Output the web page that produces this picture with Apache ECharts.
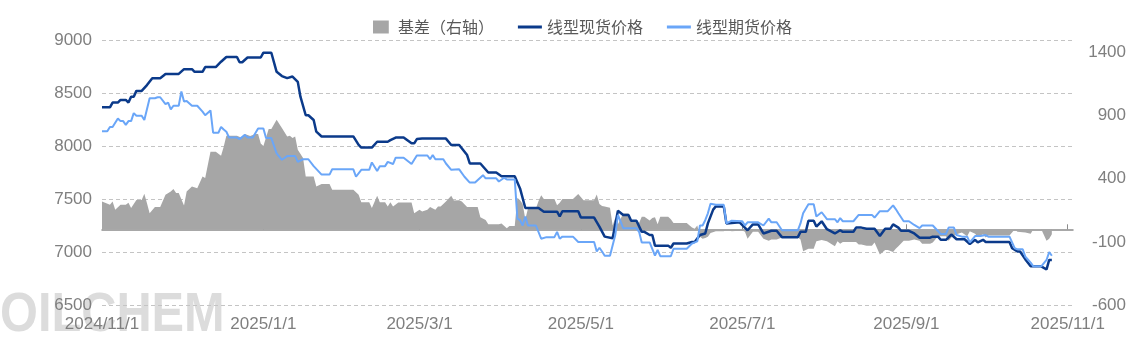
<!DOCTYPE html>
<html><head><meta charset="utf-8">
<script src="https://cdn.jsdelivr.net/npm/echarts@6/dist/echarts.min.js"></script>
<style>html,body{margin:0;padding:0;background:#fff}#c{width:1135px;height:360px}</style>
</head><body><div id="c"></div>
<script>
const spotDates = ['2024-11-01','2024-11-04','2024-11-05','2024-11-07','2024-11-08','2024-11-10','2024-11-11','2024-11-12','2024-11-13','2024-11-14','2024-11-16','2024-11-18','2024-11-20','2024-11-23','2024-11-25','2024-11-30',
'2024-12-02','2024-12-05','2024-12-06','2024-12-09','2024-12-10','2024-12-14','2024-12-16','2024-12-18','2024-12-22','2024-12-23','2024-12-24','2024-12-26','2024-12-31',
'2025-01-01','2025-01-04','2025-01-06','2025-01-08','2025-01-10','2025-01-12','2025-01-14','2025-01-15','2025-01-17','2025-01-18','2025-01-20','2025-01-21','2025-01-23',
'2025-02-04','2025-02-06','2025-02-07','2025-02-11','2025-02-13','2025-02-17','2025-02-18','2025-02-20','2025-02-23','2025-02-26','2025-02-27','2025-02-28',
'2025-03-02','2025-03-11','2025-03-13','2025-03-16','2025-03-19','2025-03-20','2025-03-24','2025-03-27','2025-03-30',
'2025-04-01','2025-04-06','2025-04-08','2025-04-10','2025-04-15','2025-04-17','2025-04-22','2025-04-23','2025-04-24','2025-04-30',
'2025-05-01','2025-05-06','2025-05-08','2025-05-10','2025-05-13','2025-05-15','2025-05-17','2025-05-19','2025-05-20','2025-05-22','2025-05-24','2025-05-25','2025-05-27','2025-05-28','2025-05-29',
'2025-06-03','2025-06-04','2025-06-05','2025-06-10','2025-06-12','2025-06-13','2025-06-15','2025-06-17','2025-06-18','2025-06-20','2025-06-21','2025-06-24','2025-06-25','2025-06-30',
'2025-07-03','2025-07-05','2025-07-07','2025-07-09','2025-07-12','2025-07-14','2025-07-16','2025-07-22','2025-07-23','2025-07-25','2025-07-26','2025-07-28','2025-07-29','2025-07-31',
'2025-08-02','2025-08-05','2025-08-07','2025-08-08','2025-08-12','2025-08-13','2025-08-15','2025-08-17','2025-08-20','2025-08-22','2025-08-24','2025-08-26','2025-08-27','2025-08-29','2025-08-30',
'2025-09-02','2025-09-04','2025-09-06','2025-09-10','2025-09-11','2025-09-13','2025-09-14','2025-09-16','2025-09-18','2025-09-20','2025-09-23','2025-09-25','2025-09-27','2025-09-28','2025-09-30',
'2025-10-01','2025-10-10','2025-10-11','2025-10-13','2025-10-14','2025-10-16','2025-10-18','2025-10-22','2025-10-24','2025-10-25','2025-10-26'];
const spotPrices = [8365,8365,8410,8410,8435,8435,8410,8465,8465,8520,8520,8575,8640,8640,8680,8680,
8725,8725,8700,8700,8745,8745,8795,8840,8840,8790,8790,8835,8835,
8880,8880,8700,8660,8640,8655,8605,8465,8290,8290,8245,8135,8090,
8090,8010,7985,7985,8040,8040,8055,8080,8080,8025,8025,8065,
8070,8070,8010,8010,7915,7835,7835,7750,7750,
7715,7715,7600,7415,7415,7380,7380,7335,7385,7385,
7325,7325,7240,7145,7130,7390,7350,7350,7295,7295,7190,7190,7160,7160,7060,
7060,7040,7080,7080,7095,7095,7160,7175,7270,7400,7430,7430,7270,7280,
7205,7260,7260,7175,7200,7200,7140,7140,7190,7190,7295,7295,7240,7290,
7215,7175,7205,7190,7190,7230,7230,7220,7220,7150,7220,7220,7260,7230,7200,
7200,7175,7135,7135,7145,7145,7115,7115,7165,7120,7120,7075,7115,7090,7115,
7095,7095,7035,7005,7005,6930,6865,6865,6835,6925,6925];

const futDates = ['2024-11-01','2024-11-03','2024-11-04','2024-11-05','2024-11-07','2024-11-08','2024-11-09','2024-11-10','2024-11-11','2024-11-12','2024-11-13','2024-11-14','2024-11-16','2024-11-17','2024-11-19','2024-11-21','2024-11-22','2024-11-23','2024-11-25','2024-11-26','2024-11-27','2024-11-28','2024-11-30',
'2024-12-01','2024-12-02','2024-12-03','2024-12-05','2024-12-07','2024-12-09','2024-12-10','2024-12-12','2024-12-13','2024-12-15','2024-12-16','2024-12-17','2024-12-18','2024-12-19','2024-12-22','2024-12-23','2024-12-25','2024-12-26','2024-12-28','2024-12-30',
'2025-01-01','2025-01-02','2025-01-04','2025-01-06','2025-01-08','2025-01-10','2025-01-13','2025-01-14','2025-01-16','2025-01-18','2025-01-20','2025-01-23','2025-01-26','2025-01-27',
'2025-02-04','2025-02-05','2025-02-07','2025-02-10','2025-02-11','2025-02-13','2025-02-14','2025-02-16','2025-02-17','2025-02-19','2025-02-20','2025-02-23','2025-02-26','2025-02-28',
'2025-03-04','2025-03-05','2025-03-06','2025-03-07','2025-03-10','2025-03-11','2025-03-13','2025-03-16','2025-03-18','2025-03-20','2025-03-22','2025-03-25','2025-03-26','2025-03-30','2025-03-31',
'2025-04-02','2025-04-03','2025-04-06','2025-04-07','2025-04-08','2025-04-09','2025-04-10','2025-04-11','2025-04-14','2025-04-16','2025-04-18','2025-04-21','2025-04-22','2025-04-23','2025-04-24','2025-04-28','2025-04-30',
'2025-05-06','2025-05-07','2025-05-08','2025-05-09','2025-05-10','2025-05-12','2025-05-14','2025-05-15','2025-05-17','2025-05-22','2025-05-23','2025-05-24','2025-05-27','2025-05-29','2025-05-30','2025-05-31',
'2025-06-04','2025-06-05','2025-06-10','2025-06-12','2025-06-14','2025-06-15','2025-06-16','2025-06-17','2025-06-18','2025-06-19','2025-06-21','2025-06-24','2025-06-25','2025-06-27',
'2025-07-01','2025-07-02','2025-07-03','2025-07-07','2025-07-09','2025-07-11','2025-07-12','2025-07-14','2025-07-16','2025-07-22','2025-07-23','2025-07-24','2025-07-26','2025-07-28','2025-07-29','2025-07-31',
'2025-08-02','2025-08-05','2025-08-06','2025-08-07','2025-08-08','2025-08-12','2025-08-14','2025-08-19','2025-08-20','2025-08-22','2025-08-25','2025-08-27','2025-08-28','2025-08-29','2025-08-31',
'2025-09-02','2025-09-04','2025-09-06','2025-09-07','2025-09-11','2025-09-14','2025-09-16','2025-09-17','2025-09-19','2025-09-20','2025-09-22','2025-09-24','2025-09-25','2025-09-27','2025-09-29',
'2025-10-01','2025-10-02','2025-10-10','2025-10-12','2025-10-13','2025-10-15','2025-10-16','2025-10-18','2025-10-19','2025-10-22','2025-10-24','2025-10-25','2025-10-26'];
const futPrices = [8140,8140,8180,8180,8260,8235,8235,8200,8235,8235,8310,8285,8285,8245,8450,8450,8460,8460,8395,8410,8345,8380,8380,
8515,8420,8425,8380,8380,8325,8290,8335,8125,8125,8180,8155,8135,8080,8080,8065,8105,8080,8080,8165,
8165,8075,8075,7930,7870,7905,7905,7850,7875,7875,7810,7730,7730,7780,
7780,7710,7775,7775,7845,7765,7810,7810,7850,7830,7890,7890,7830,7910,
7910,7875,7915,7875,7875,7835,7775,7780,7710,7655,7655,7725,7695,7695,7665,
7700,7685,7685,7315,7300,7250,7335,7250,7250,7125,7140,7140,7190,7125,7145,7145,7095,
7095,7005,7040,7005,6965,6965,7160,7350,7225,7225,7190,7090,7090,6965,7020,6960,
6960,7030,7030,7080,7100,7250,7250,7300,7365,7455,7445,7445,7270,7295,
7290,7250,7280,7280,7250,7315,7280,7280,7205,7205,7270,7365,7450,7450,7335,7375,
7310,7310,7280,7320,7290,7290,7350,7350,7325,7385,7385,7440,7405,7365,7290,
7290,7255,7225,7250,7250,7170,7170,7230,7230,7160,7145,7145,7090,7150,7150,
7160,7145,7145,7035,7025,7025,6955,6900,6865,6865,6925,7000,6965];

const basisDates = ['2024-11-01','2024-11-04','2024-11-05','2024-11-06','2024-11-08','2024-11-10','2024-11-11','2024-11-12','2024-11-14','2024-11-16','2024-11-17','2024-11-18','2024-11-19','2024-11-21','2024-11-23','2024-11-25','2024-11-27','2024-11-28','2024-11-29','2024-11-30',
'2024-12-02','2024-12-03','2024-12-05','2024-12-07','2024-12-09','2024-12-10','2024-12-12','2024-12-14','2024-12-16','2024-12-17','2024-12-18','2024-12-22','2024-12-24','2024-12-25','2024-12-27','2024-12-29','2024-12-30','2024-12-31',
'2025-01-01','2025-01-03','2025-01-04','2025-01-06','2025-01-08','2025-01-10','2025-01-11','2025-01-12','2025-01-13','2025-01-14','2025-01-16','2025-01-17','2025-01-20','2025-01-21','2025-01-23','2025-01-26','2025-01-27',
'2025-02-04','2025-02-06','2025-02-07','2025-02-10','2025-02-11','2025-02-13','2025-02-14','2025-02-16','2025-02-17','2025-02-18','2025-02-19','2025-02-21','2025-02-26','2025-02-27',
'2025-03-01','2025-03-02','2025-03-04','2025-03-05','2025-03-07','2025-03-08','2025-03-09','2025-03-11','2025-03-13','2025-03-14','2025-03-16','2025-03-17','2025-03-19','2025-03-23','2025-03-24','2025-03-26','2025-03-27','2025-03-31',
'2025-04-01','2025-04-03','2025-04-04','2025-04-06','2025-04-07','2025-04-08','2025-04-09','2025-04-10','2025-04-11','2025-04-14','2025-04-15','2025-04-16','2025-04-17','2025-04-21','2025-04-22','2025-04-23','2025-04-24','2025-04-28','2025-04-30',
'2025-05-02','2025-05-06','2025-05-07','2025-05-08','2025-05-09','2025-05-10','2025-05-12','2025-05-13','2025-05-14','2025-05-15','2025-05-17','2025-05-19','2025-05-20','2025-05-22','2025-05-23','2025-05-24','2025-05-25','2025-05-27','2025-05-28','2025-05-29','2025-05-30','2025-05-31',
'2025-06-03','2025-06-04','2025-06-05','2025-06-10','2025-06-12','2025-06-13','2025-06-14','2025-06-15','2025-06-16','2025-06-17','2025-06-18','2025-06-19','2025-06-21','2025-06-24','2025-06-25','2025-06-27',
'2025-07-01','2025-07-02','2025-07-03','2025-07-05','2025-07-07','2025-07-09','2025-07-11','2025-07-12','2025-07-14','2025-07-16','2025-07-22','2025-07-23','2025-07-24','2025-07-26','2025-07-28','2025-07-29','2025-07-31',
'2025-08-02','2025-08-05','2025-08-06','2025-08-07','2025-08-08','2025-08-12','2025-08-13','2025-08-14','2025-08-15','2025-08-17','2025-08-19','2025-08-20','2025-08-22','2025-08-24','2025-08-25','2025-08-27','2025-08-28','2025-08-29','2025-08-31',
'2025-09-02','2025-09-04','2025-09-06','2025-09-07','2025-09-10','2025-09-11','2025-09-13','2025-09-14','2025-09-16','2025-09-17','2025-09-18','2025-09-20','2025-09-22','2025-09-24','2025-09-25','2025-09-27','2025-09-28','2025-09-30',
'2025-10-01','2025-10-02','2025-10-10','2025-10-12','2025-10-13','2025-10-16','2025-10-18','2025-10-19','2025-10-22','2025-10-24','2025-10-25','2025-10-26'];
const basisValues = [220,194,220,154,194,194,210,168,233,233,281,207,128,176,176,273,299,320,287,287,
188,299,339,326,419,406,614,614,582,654,741,741,723,755,740,755,755,680,
660,795,795,868,803,736,742,723,736,630,565,419,419,339,358,358,313,
313,273,215,215,168,265,215,215,180,215,180,212,212,128,
154,140,154,176,154,180,180,220,265,228,230,220,176,176,96,74,40,40,
45,8,26,26,250,230,200,80,165,165,225,270,240,240,190,210,240,240,280,
230,230,275,200,185,180,170,30,90,40,125,125,70,70,50,100,100,70,90,95,40,100,
100,80,50,50,15,5,30,-60,-75,-70,-60,-30,-15,-15,0,-15,
-10,-20,-75,-20,-20,-75,-90,-80,-80,-65,-65,-80,-175,-155,-155,-95,-85,
-95,-135,-95,-115,-100,-100,-100,-120,-120,-130,-130,-105,-200,-165,-165,-180,-155,-135,-90,
-90,-80,-90,-115,-115,-105,-55,-55,-55,-90,-65,-40,-25,-55,-15,-35,-60,-40,
-65,-50,-50,0,-20,-25,-35,0,0,-90,-75,-40];

const xTickLabels = ['2024/11/1','2025/1/1','2025/3/1','2025/5/1','2025/7/1','2025/9/1','2025/11/1'];
const xRange = ['2024-11-01','2025-11-03'];
const leftRange = [6500, 9000];
const rightRange = [-600, 1500];
const seriesNames = ['基差（右轴）','线型现货价格','线型期货价格'];

function ts(s){ const p = s.split(/[-\/]/).map(Number); return Date.UTC(p[0], p[1]-1, p[2]); }
const pair = (ds, vs) => ds.map((d, i) => [ts(d), vs[i]]);
const tickTs = xTickLabels.map(ts);
const FONT = '"Liberation Sans",sans-serif';
const LBL = '#7f7f7f';
const C_SPOT = '#0b3a8a', C_FUT = '#6aa6f8', C_BASIS = '#a6a6a6';

const chart = echarts.init(document.getElementById('c'));
chart.setOption({
  animation: false,
  backgroundColor: '#fff',
  graphic: [{
    type: 'text', left: 0, top: 288, z: -10, silent: true, scaleX: 0.87,
    style: { text: 'OILCHEM', fontSize: 56, fontWeight: 'bold', fontFamily: '"Liberation Sans",sans-serif', fill: '#dcdcdc' }
  }],
  grid: { left: 102, right: 62, top: 40, bottom: 55 },
  legend: {
    top: 14, left: 368, itemGap: 24, itemWidth: 24, itemHeight: 13,
    textStyle: { color: '#595959', fontSize: 16, fontFamily: '"Noto Sans CJK SC",sans-serif' },
    data: [
      { name: seriesNames[0], icon: 'path://M0,0H17V14H0Z' },
      { name: seriesNames[1], icon: 'path://M0,0H24V3H0Z', itemStyle: { color: C_SPOT } },
      { name: seriesNames[2], icon: 'path://M0,0H24V3H0Z', itemStyle: { color: C_FUT } }
    ]
  },
  xAxis: {
    type: 'value', min: ts(xRange[0]), max: ts(xRange[1]),
    axisLine: { lineStyle: { color: '#8c8c8c', width: 1.5 } },
    axisTick: { show: true, inside: true, length: 5, customValues: tickTs, lineStyle: { color: '#8c8c8c' } },
    axisLabel: {
      customValues: tickTs, showMinLabel: true, showMaxLabel: true, hideOverlap: false,
      color: LBL, fontSize: 17, fontFamily: FONT, margin: 11,
      formatter: v => { const i = tickTs.indexOf(v); return i >= 0 ? xTickLabels[i] : ''; }
    },
    splitLine: { show: false }
  },
  yAxis: [{
    type: 'value', min: leftRange[0], max: leftRange[1], interval: 500,
    axisLine: { show: false }, axisTick: { show: false },
    axisLabel: { color: LBL, fontSize: 17, fontFamily: FONT, margin: 10, formatter: v => String(v) },
    splitLine: { lineStyle: { type: [4, 3], color: '#c4c4c4', width: 1 } }
  }, {
    type: 'value', min: rightRange[0], max: rightRange[1], interval: 500, position: 'right',
    axisLine: { show: false }, axisTick: { show: false }, splitLine: { show: false },
    axisLabel: { color: LBL, fontSize: 17, fontFamily: FONT, margin: 53, align: 'right', showMaxLabel: false, formatter: v => String(v) }
  }],
  series: [{
    name: seriesNames[0], type: 'line', yAxisIndex: 1, symbol: 'none',
    data: pair(basisDates, basisValues),
    lineStyle: { width: 0 }, itemStyle: { color: C_BASIS },
    areaStyle: { color: C_BASIS, opacity: 1 }
  }, {
    name: seriesNames[1], type: 'line', symbol: 'none',
    data: pair(spotDates, spotPrices),
    lineStyle: { width: 2.5, color: C_SPOT }, itemStyle: { color: C_SPOT }
  }, {
    name: seriesNames[2], type: 'line', symbol: 'none',
    data: pair(futDates, futPrices),
    lineStyle: { width: 2, color: C_FUT }, itemStyle: { color: C_FUT }
  }]
});
</script></body></html>
